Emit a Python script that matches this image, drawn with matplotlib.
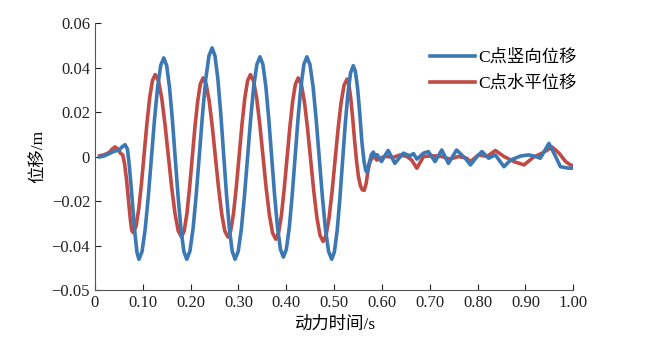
import matplotlib
matplotlib.use("Agg")
import matplotlib.pyplot as plt

plt.rcParams['font.family'] = ['Liberation Serif', 'Noto Sans CJK SC']
plt.rcParams['axes.unicode_minus'] = True

# C点竖向位移 (blue)
t_vert = [0.010, 0.020, 0.030, 0.040, 0.050, 0.057, 0.063, 0.068,
          0.072, 0.076, 0.080, 0.084, 0.088, 0.092,
          0.0985, 0.105, 0.1115, 0.118, 0.1245, 0.131, 0.1375, 0.144,
          0.150, 0.156, 0.162, 0.168, 0.174, 0.180, 0.186, 0.192,
          0.1986, 0.2053, 0.2119, 0.2185, 0.2252, 0.2318, 0.2384, 0.245,
          0.251, 0.257, 0.263, 0.269, 0.275, 0.281, 0.287, 0.293,
          0.2995, 0.306, 0.3125, 0.319, 0.3255, 0.332, 0.3385, 0.345,
          0.3511, 0.3573, 0.3634, 0.3695, 0.3756, 0.3818, 0.3879, 0.394,
          0.4001, 0.4063, 0.4124, 0.4185, 0.4246, 0.4308, 0.4369, 0.443,
          0.4495, 0.456, 0.4625, 0.469, 0.4755, 0.482, 0.4885, 0.495,
          0.5006, 0.5063, 0.5119, 0.5175, 0.5231, 0.5288, 0.5344, 0.540,
          0.5445, 0.549, 0.5535, 0.558, 0.5625, 0.566, 0.569, 0.573,
          0.578, 0.582, 0.586, 0.590, 0.599, 0.606, 0.613, 0.620,
          0.627, 0.636, 0.645, 0.652, 0.659, 0.666, 0.673, 0.687,
          0.697, 0.711, 0.725, 0.739, 0.756, 0.774, 0.785, 0.799,
          0.809, 0.823, 0.837, 0.855, 0.869, 0.890, 0.907, 0.921,
          0.931, 0.949, 0.963, 0.973, 0.991, 1.000]
y_vert = [0.0000, 0.0005, 0.0015, 0.0025, 0.0030, 0.0045, 0.0055, 0.0035,
          -0.0040, -0.0140, -0.0250, -0.0350, -0.0430, -0.0460,
          -0.0426, -0.0327, -0.0181, -0.0008, 0.0166, 0.0312, 0.0411, 0.0445,
          0.0411, 0.0312, 0.0166, -0.0008, -0.0181, -0.0327, -0.0426, -0.0460,
          -0.0424, -0.0321, -0.0167, 0.0015, 0.0197, 0.0351, 0.0454, 0.0490,
          0.0454, 0.0351, 0.0197, 0.0015, -0.0167, -0.0321, -0.0424, -0.0460,
          -0.0425, -0.0327, -0.0179, -0.0005, 0.0169, 0.0317, 0.0415, 0.0450,
          0.0416, 0.0318, 0.0172, 0.0000, -0.0172, -0.0318, -0.0416, -0.0450,
          -0.0416, -0.0318, -0.0172, 0.0000, 0.0172, 0.0318, 0.0416, 0.0450,
          0.0415, 0.0317, 0.0169, -0.0005, -0.0179, -0.0327, -0.0425, -0.0460,
          -0.0427, -0.0333, -0.0192, -0.0025, 0.0142, 0.0283, 0.0377, 0.0410,
          0.0385, 0.0310, 0.0200, 0.0070, -0.0020, -0.0060, -0.0070, -0.0030,
          0.0010, 0.0022, 0.0000, 0.0010, -0.0021, 0.0005, 0.0029, 0.0000,
          -0.0029, -0.0005, 0.0017, 0.0010, 0.0005, 0.0015, -0.0010, 0.0017,
          0.0024, -0.0021, 0.0031, -0.0029, 0.0031, -0.0006, -0.0036, 0.0002,
          0.0024, -0.0006, 0.0009, -0.0044, -0.0014, 0.0004, 0.0009, 0.0002,
          -0.0006, 0.0061, 0.0002, -0.0044, -0.0051, -0.0050]

# C点水平位移 (red)
t_horiz = [0.010, 0.020, 0.030, 0.036, 0.042, 0.048, 0.054, 0.058,
           0.062, 0.066, 0.070, 0.074, 0.077, 0.080,
           0.0858, 0.0915, 0.0973, 0.103, 0.1088, 0.1145, 0.1203, 0.126,
           0.1329, 0.1398, 0.1466, 0.1535, 0.1604, 0.1673, 0.1741, 0.181,
           0.1866, 0.1923, 0.1979, 0.2035, 0.2091, 0.2148, 0.2204, 0.226,
           0.2325, 0.239, 0.2455, 0.252, 0.2585, 0.265, 0.2715, 0.278,
           0.2839, 0.2898, 0.2956, 0.3015, 0.3074, 0.3133, 0.3191, 0.325,
           0.3316, 0.3383, 0.3449, 0.3515, 0.3581, 0.3648, 0.3714, 0.378,
           0.3839, 0.3898, 0.3956, 0.4015, 0.4074, 0.4133, 0.4191, 0.425,
           0.4315, 0.438, 0.4445, 0.451, 0.4575, 0.464, 0.4705, 0.477,
           0.4833, 0.4895, 0.4958, 0.502, 0.5083, 0.5145, 0.5208, 0.527,
           0.531, 0.535, 0.539, 0.543, 0.547, 0.551, 0.555, 0.559,
           0.563, 0.567, 0.571, 0.575, 0.580, 0.586, 0.589, 0.606,
           0.624, 0.638, 0.652, 0.662, 0.673, 0.687, 0.707, 0.725,
           0.742, 0.760, 0.777, 0.785, 0.802, 0.820, 0.837, 0.855,
           0.876, 0.897, 0.917, 0.935, 0.956, 0.970, 0.984, 0.994, 1.000]
y_horiz = [0.0005, 0.0010, 0.0020, 0.0035, 0.0045, 0.0035, 0.0015, 0.0010,
           -0.0030, -0.0100, -0.0190, -0.0280, -0.0330, -0.0340,
           -0.0313, -0.0236, -0.0121, 0.0015, 0.0151, 0.0266, 0.0343, 0.0370,
           0.0342, 0.0263, 0.0145, 0.0005, -0.0135, -0.0253, -0.0332, -0.0360,
           -0.0333, -0.0255, -0.0139, -0.0003, 0.0134, 0.0250, 0.0328, 0.0355,
           0.0328, 0.0250, 0.0134, -0.0003, -0.0139, -0.0255, -0.0333, -0.0360,
           -0.0332, -0.0253, -0.0135, 0.0005, 0.0145, 0.0263, 0.0342, 0.0370,
           0.0342, 0.0262, 0.0142, 0.0000, -0.0142, -0.0262, -0.0342, -0.0370,
           -0.0342, -0.0264, -0.0146, -0.0008, 0.0131, 0.0249, 0.0327, 0.0355,
           0.0327, 0.0247, 0.0128, -0.0013, -0.0153, -0.0272, -0.0352, -0.0380,
           -0.0352, -0.0273, -0.0155, -0.0015, 0.0125, 0.0243, 0.0322, 0.0350,
           0.0325, 0.0260, 0.0170, 0.0070, -0.0020, -0.0090, -0.0130, -0.0148,
           -0.0150, -0.0120, -0.0060, -0.0020, -0.0005, 0.0000, -0.0014, 0.0003,
           -0.0002, 0.0009, 0.0002, -0.0014, -0.0051, 0.0002, 0.0005, 0.0002,
           -0.0010, 0.0002, -0.0006, -0.0021, 0.0009, 0.0002, 0.0029, 0.0002,
           -0.0021, -0.0036, -0.0001, 0.0017, 0.0044, 0.0017, -0.0021, -0.0036, -0.0040]

x_ticks = [0, 0.1, 0.2, 0.3, 0.4, 0.5, 0.6, 0.7, 0.8, 0.9, 1.0]
x_labels = ['0', '0.10', '0.20', '0.30', '0.40', '0.50', '0.60', '0.70', '0.80', '0.90', '1.00']
y_ticks = [-0.06, -0.04, -0.02, 0, 0.02, 0.04, 0.06]
y_labels = ['\u22120.05', '\u22120.04', '\u22120.02', '0', '0.02', '0.04', '0.06']

fig = plt.figure(figsize=(6.5, 3.55), dpi=100)
ax = fig.add_axes([0.146, 0.182, 0.736, 0.752])

ax.plot(t_vert, y_vert, color='#3b78b4', lw=2.6, label='C点竖向位移', zorder=3,
        solid_joinstyle='round')
ax.plot(t_horiz, y_horiz, color='#c14a44', lw=2.6, label='C点水平位移', zorder=2,
        solid_joinstyle='round')

ax.set_xlim(0, 1.0)
ax.set_ylim(-0.06, 0.06)
ax.set_xticks(x_ticks)
ax.set_xticklabels(x_labels)
ax.set_yticks(y_ticks)
ax.set_yticklabels(y_labels)
ax.tick_params(direction='in', length=4, width=0.8, labelsize=12, colors='#222222')
ax.spines['top'].set_visible(False)
ax.spines['right'].set_visible(False)
ax.spines['left'].set_color('#555555')
ax.spines['bottom'].set_color('#555555')

ax.set_xlabel('动力时间/s', fontsize=12.5, labelpad=4)
ax.set_ylabel('位移/m', fontsize=12.5, labelpad=4)

ax.legend(loc='upper right', bbox_to_anchor=(1.04, 0.96), frameon=False,
          fontsize=12.5, handlelength=2.6, handletextpad=0.2, labelspacing=0.55)

fig.savefig('out.png', dpi=100)
